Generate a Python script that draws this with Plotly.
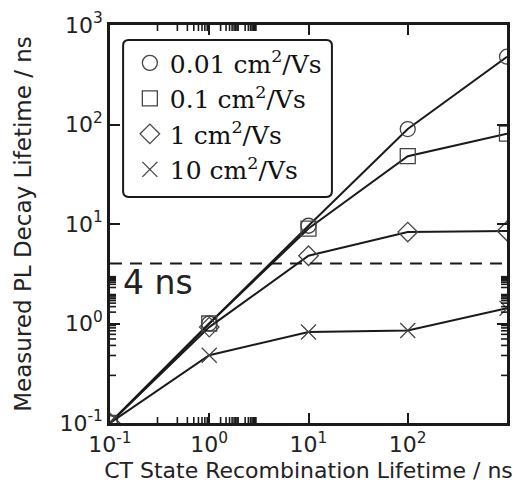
import math
import plotly.graph_objects as go

x_vals = [0.1, 1, 10, 100, 1000]
series_names = ["0.01 cm<sup>2</sup>/Vs", "0.1 cm<sup>2</sup>/Vs", "1 cm<sup>2</sup>/Vs", "10 cm<sup>2</sup>/Vs"]
y_001 = [0.1, 1.0, 9.6, 90, 480]
y_01 = [0.1, 1.0, 9.0, 48, 81]
y_1 = [0.1, 0.92, 4.8, 8.3, 8.5]
y_10 = [0.1, 0.48, 0.82, 0.85, 1.42]
symbols = ["circle-open", "square-open", "diamond-open", "x-thin-open"]
threshold = 4
major_ticks = [0.1, 1, 10, 100, 1000]
major_labels = ["10<sup>-1</sup>", "10<sup>0</sup>", "10<sup>1</sup>", "10<sup>2</sup>", "10<sup>3</sup>"]
minor_ticks = [m * 10.0 ** e for e in range(-1, 3) for m in range(2, 10)]

INK = "#1a1a1a"
fig = go.Figure()
for i, (name, ys, sym) in enumerate(zip(series_names, [y_001, y_01, y_1, y_10], symbols)):
    fig.add_trace(go.Scatter(
        x=x_vals, y=ys, mode="lines", showlegend=False,
        line=dict(color=INK, width=2),
    ))
    fig.add_trace(go.Scatter(
        x=x_vals, y=ys, name=name, mode="markers", legendgroup=f"g{i}",
        marker=dict(symbol=sym, size=15, color="#444", line=dict(color="#444", width=1.3)),
    ))

fig.add_trace(go.Scatter(x=[0.1, 1000], y=[threshold, threshold], mode="lines",
                         line=dict(color=INK, width=2, dash="12px,8px"), showlegend=False))

axis_common = dict(
    type="log", range=[-1, 3], showgrid=False, zeroline=False, showline=True, linecolor=INK, linewidth=2.5,
    mirror="allticks", ticks="inside", ticklen=10, tickwidth=1.5, tickcolor=INK,
    tickmode="array", tickvals=major_ticks, ticktext=major_labels, automargin=False,
    tickfont=dict(family="DejaVu Sans", size=22, color="#222"),
)
fig.update_layout(
    xaxis=dict(title=dict(text="CT State Recombination Lifetime / ns",
                          font=dict(family="DejaVu Sans", size=22, color="#222"), standoff=13), **axis_common),
    yaxis=dict(title=dict(text="Measured PL Decay Lifetime / ns",
                          font=dict(family="DejaVu Sans", size=23, color="#222"), standoff=22), **axis_common),
)

# minor ticks on all four sides, placed through the axes' log scale
tick_line = dict(color=INK, width=1.6)
for v in minor_ticks:
    lv = math.log10(v)
    fig.add_shape(type="line", xref="x", yref="y domain", ysizemode="pixel", yanchor=0,
                  x0=lv, x1=lv, y0=0, y1=6, line=tick_line, layer="above")
    fig.add_shape(type="line", xref="x", yref="y domain", ysizemode="pixel", yanchor=1,
                  x0=lv, x1=lv, y0=-6, y1=0, line=tick_line, layer="above")
    fig.add_shape(type="line", xref="x domain", yref="y", xsizemode="pixel", xanchor=0,
                  x0=0, x1=6, y0=lv, y1=lv, line=tick_line, layer="above")
    fig.add_shape(type="line", xref="x domain", yref="y", xsizemode="pixel", xanchor=1,
                  x0=-6, x1=0, y0=lv, y1=lv, line=tick_line, layer="above")

# rounded legend frame (paper coords)
x0, x1, y0, y1 = 0.033, 0.559, 0.568, 0.962
rx, ry = 0.014, 0.014
path = (f"M {x0+rx},{y0} L {x1-rx},{y0} Q {x1},{y0} {x1},{y0+ry} L {x1},{y1-ry} Q {x1},{y1} {x1-rx},{y1} "
        f"L {x0+rx},{y1} Q {x0},{y1} {x0},{y1-ry} L {x0},{y0+ry} Q {x0},{y0} {x0+rx},{y0} Z")
fig.add_shape(type="path", path=path, xref="paper", yref="paper",
              line=dict(color=INK, width=2), fillcolor="white", layer="below")

fig.add_annotation(x=0.028, y=0.354, xref="paper", yref="paper", text="4 ns", showarrow=False,
                   xanchor="left", yanchor="middle", font=dict(family="DejaVu Sans", size=33, color="#222"))

fig.update_layout(
    width=511, height=475, plot_bgcolor="white", paper_bgcolor="white",
    margin=dict(l=102, r=12, t=17, b=60, autoexpand=False),
    legend=dict(x=0.05, y=0.962, xanchor="left", yanchor="top",
                bgcolor="rgba(0,0,0,0)", borderwidth=0,
                font=dict(family="DejaVu Serif", size=25, color="#111"),
                itemwidth=30, tracegroupgap=0),
    showlegend=True,
)
fig.write_html("out.html")
